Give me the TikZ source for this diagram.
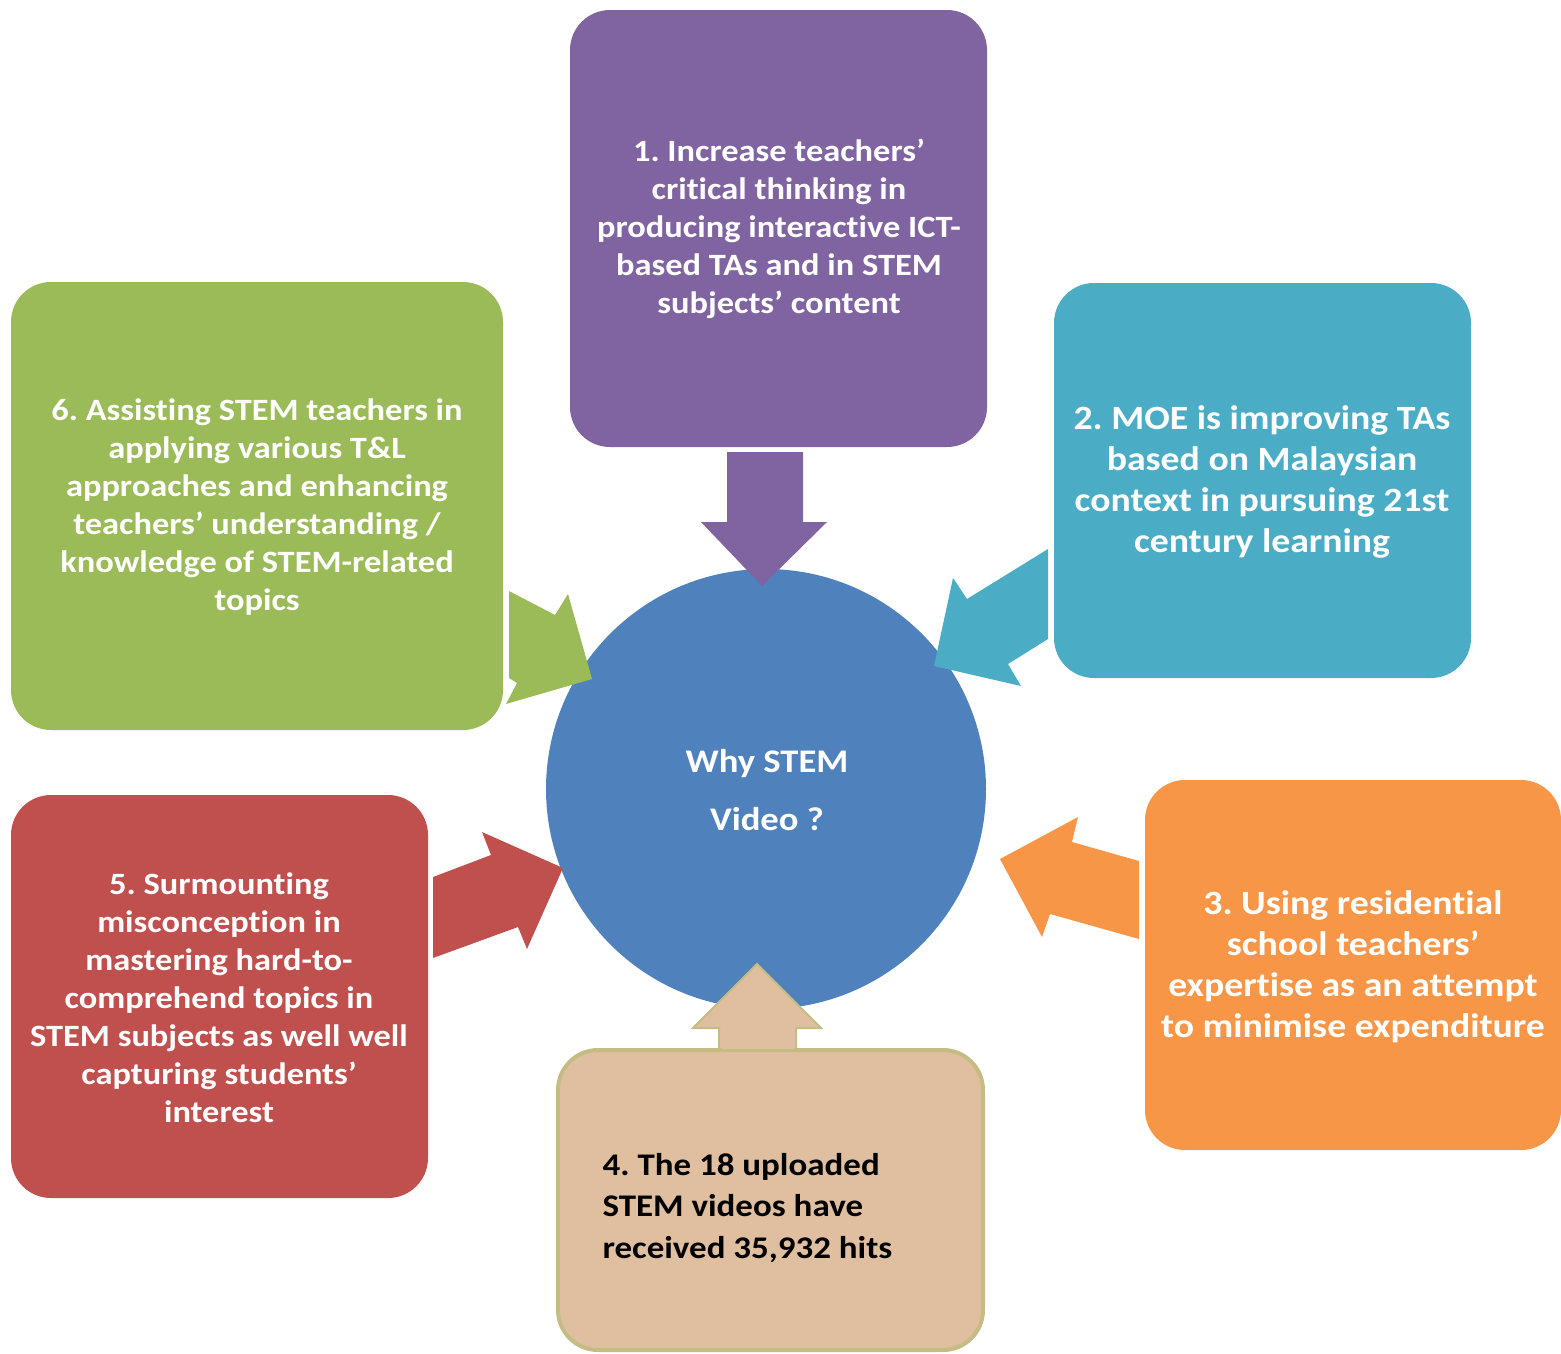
\documentclass[tikz,border=0pt]{standalone}
\usepackage{fontspec}
\setmainfont{Carlito}[FakeStretch=1.11, Ligatures={NoCommon}]
\frenchspacing
\definecolor{cpurple}{HTML}{8064A2}
\definecolor{cteal}{HTML}{4BACC6}
\definecolor{cgreen}{HTML}{9BBB59}
\definecolor{cred}{HTML}{C0504D}
\definecolor{corange}{HTML}{F79646}
\definecolor{cblue}{HTML}{4F81BD}
\definecolor{ctan}{HTML}{DFBF9F}
\definecolor{ctanline}{HTML}{C4BC82}
\tikzset{
  box/.style={rounded corners=40pt, draw=none},
  wtext/.style={text=white, align=center, font=\fontsize{31}{38}\selectfont\bfseries},
  wtextb/.style={text=white, align=center, font=\fontsize{34}{41}\selectfont\bfseries},
}
\begin{document}
\begin{tikzpicture}[x=1pt,y=-1pt]
\useasboundingbox (0,0) rectangle (1561,1353);
% centre circle
\fill[cblue] (766,789) circle[radius=220];
\node[text=white, align=center, font=\fontsize{33}{58}\selectfont\bfseries] (c) at (767,790) {Why STEM\\Video ?};
% boxes
\fill[cpurple, box] (570,10) rectangle (987,447);
\node[wtext] (t1) at (779,229) {1. Increase teachers’\\critical thinking in\\producing interactive ICT-\\based TAs and in STEM\\subjects’ content};
\fill[cteal, box] (1054,283) rectangle (1471,678);
\node[wtextb] (t2) at (1262,482) {2. MOE is improving TAs\\based on Malaysian\\context in pursuing 21st\\century learning};
\fill[corange, box] (1145,780) rectangle (1561,1150);
\node[wtextb] (t3) at (1353,967) {3. Using residential\\school teachers’\\expertise as an attempt\\to minimise expenditure};
\filldraw[fill=ctan, draw=ctanline, line width=4pt, rounded corners=40pt] (558,1050) rectangle (983,1350);
\node[align=left, anchor=west, font=\fontsize{31.5}{41.5}\selectfont\bfseries] (t4) at (599,1208) {4. The 18 uploaded\\STEM videos have\\received 35,932 hits};
\fill[cred, box] (11,795) rectangle (428,1198);
\node[wtext] (t5) at (219,998) {5. Surmounting\\misconception in\\mastering hard-to-\\comprehend topics in\\STEM subjects as well well\\capturing students’\\interest};
\fill[cgreen, box] (11,282) rectangle (503,730);
\node[wtext] (t6) at (257,507) {6. Assisting STEM teachers in\\applying various T\&L\\approaches and enhancing\\teachers’ understanding /\\knowledge of STEM-related\\topics};
% block arrows
\fill[cpurple] (727,452) -- (803,452) -- (803,522) -- (827,522) -- (762,586) -- (701,522) -- (727,522) -- cycle;
\fill[cteal] (1048,549) -- (967,599) -- (953,578) -- (934,666) -- (1021,686) -- (1008,664) -- (1048,639) -- cycle;
\fill[cgreen] (509,591) -- (555,615) -- (568,594) -- (592,679) -- (506,704) -- (517,683) -- (509,678) -- cycle;
\fill[cred] (433,877) -- (491,855) -- (482,832) -- (563,868) -- (527,949) -- (518,927) -- (433,958) -- cycle;
\fill[corange] (1139,861) -- (1072,842) -- (1078,817) -- (1000,859) -- (1042,937) -- (1050,914) -- (1139,939) -- cycle;
\filldraw[fill=ctan, draw=ctanline, line width=2pt, line join=miter] (719,1048) -- (719,1028) -- (693,1028) -- (757,964) -- (821,1028) -- (796,1028) -- (796,1048);
\fill[ctan] (721,1040) rectangle (794,1049);
\end{tikzpicture}
\end{document}
